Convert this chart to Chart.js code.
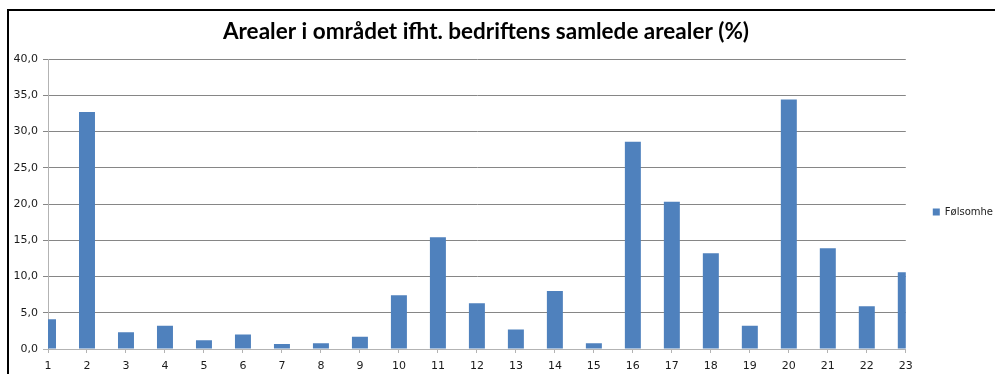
<!DOCTYPE html>
<html>
<head>
<meta charset="utf-8">
<script src="https://cdn.jsdelivr.net/npm/chart.js@4.4.1/dist/chart.umd.min.js"></script>
<style>
    html, body { margin: 0; padding: 0; background: #fff; overflow: hidden; }
    #ramme { position: absolute; left: 7px; top: 9px; width: 1000px; height: 400px;
             border-top: 2px solid #000; border-left: 2px solid #000; }
    #boks { position: absolute; left: 0; top: 0; width: 995px; height: 374px; }
</style>
</head>
<body>
<div id="ramme"></div>
<div id="boks"><canvas id="diagram"></canvas></div>
<script>
"use strict"

// Områdenummer langs x-aksen
let omraader = ["1", "2", "3", "4", "5", "6", "7", "8", "9", "10", "11", "12",
    "13", "14", "15", "16", "17", "18", "19", "20", "21", "22", "23"];

// Andel av bedriftens samlede arealer (%)
let andeler = [4.1, 32.7, 2.3, 3.2, 1.2, 2.0, 0.7, 0.8, 1.7, 7.4, 15.4, 6.3,
    2.7, 8.0, 0.8, 28.6, 20.3, 13.2, 3.2, 34.4, 13.9, 5.9, 10.6];

let serieNavn = "Følsomhe";
let tittel = "Arealer i området ifht. bedriftens samlede arealer (%)";

let yMin = 0, yMax = 40, ySteg = 5;

let tekstFont = { family: "DejaVu Sans", size: 11 };

let lerret = document.getElementById("diagram");

new Chart(lerret, {
    type: "bar",
    data: {
        labels: omraader,
        datasets: [{
            label: serieNavn,
            data: andeler,
            backgroundColor: "#4f81bd",
            borderWidth: 0,
            categoryPercentage: 0.41,
            barPercentage: 1,
            clip: 0 // halve søyler i kantene
        }]
    },
    options: {
        responsive: true,
        maintainAspectRatio: false,
        devicePixelRatio: 1,
        animation: false,
        // negativ padding: tittelen sentreres litt til venstre, forklaringen går helt ut i kanten
        layout: { padding: { left: -31, right: -8, top: 0, bottom: 0 } },
        plugins: {
            title: {
                display: true,
                text: tittel,
                color: "#000",
                font: { family: "Lato", size: 22.5, weight: "bold" },
                padding: { top: 18, bottom: 14 }
            },
            legend: {
                position: "right",
                fullSize: false,
                title: { display: true, text: "", padding: 0, font: { size: 8, lineHeight: 2 } },
                labels: {
                    boxWidth: 7,
                    boxHeight: 7,
                    color: "#222",
                    font: { family: "DejaVu Sans", size: 10 },
                    padding: 27
                }
            },
            tooltip: { enabled: false }
        },
        scales: {
            x: {
                offset: false,
                grid: {
                    offset: false,
                    drawOnChartArea: false,
                    color: "#b3b3b3",
                    tickLength: 4
                },
                border: { color: "#b3b3b3" },
                ticks: { color: "#1a1a1a", font: tekstFont, padding: 7, maxRotation: 0, autoSkip: false },
                afterFit: function (skala) { skala.height = 25; }
            },
            y: {
                min: yMin,
                max: yMax,
                ticks: {
                    stepSize: ySteg,
                    color: "#1a1a1a",
                    font: tekstFont,
                    padding: 5,
                    callback: function (v) { return v.toFixed(1).replace(".", ","); }
                },
                grid: {
                    color: function (ctx) { return ctx.tick && ctx.tick.value === 0 ? "#b3b3b3" : "#868686"; },
                    tickLength: 5
                },
                border: { color: "#b3b3b3" },
                afterFit: function (skala) { skala.width = 79; }
            }
        }
    }
});
</script>
</body>
</html>
